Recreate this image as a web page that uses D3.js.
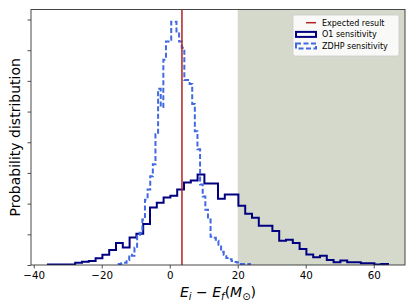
<!DOCTYPE html>
<html>
<head>
<meta charset="utf-8">
<script src="https://cdn.jsdelivr.net/npm/d3@7"></script>
<style>
body { margin: 0; background: #fff; }
svg { display: block; font-family: "DejaVu Sans", sans-serif; }
</style>
</head>
<body>
<div class="container"></div>
<script>
const WIDTH = 415;
const HEIGHT = 307;
const LEFT = 31;
const TOP = 9.5;
const RIGHT = 405;
const BOTTOM = 265;

// histogram outlines (density per bin), bins spread evenly over each range
var o1Range = [-35.8, 64.2];
var o1Density = [
    0.0002, 0.0002, 0.0002, 0.0002, 0.0007, 0.0011, 0.0013, 0.0022, 0.0033, 0.0049,
    0.0072, 0.0057, 0.0090, 0.0102, 0.0134, 0.0187, 0.0203, 0.0220, 0.0226, 0.0246,
    0.0269, 0.0275, 0.0295, 0.0266, 0.0266, 0.0216, 0.0230, 0.0230, 0.0193, 0.0167,
    0.0154, 0.0128, 0.0128, 0.0111, 0.0079, 0.0082, 0.0072, 0.0052, 0.0034, 0.0025,
    0.0030, 0.0016, 0.0009, 0.0015, 0.0009, 0.0009, 0.0006, 0.0006, 0.0002, 0.0003
];
var zdhpRange = [-15.0, 23.6];
var zdhpDensity = [
    0.0003, 0.0006, 0.0007, 0.0016, 0.0033, 0.0030, 0.0056, 0.0098, 0.0105, 0.0148,
    0.0213, 0.0246, 0.0289, 0.0328, 0.0426, 0.0574, 0.0515, 0.0669, 0.0728, 0.0734,
    0.0793, 0.0793, 0.0761, 0.0728, 0.0708, 0.0603, 0.0603, 0.0590, 0.0525, 0.0436,
    0.0377, 0.0262, 0.0223, 0.0180, 0.0148, 0.0092, 0.0089, 0.0079, 0.0066, 0.0043,
    0.0033, 0.0023, 0.0019, 0.0013, 0.0010, 0.0008, 0.0003, 0.0003, 0.0003, 0.0003
];
var expectedResult = 3.6;
var excludedFrom = 20;
var xLimits = [-40.8, 69.2];
var xTicks = [-40, -20, 0, 20, 40, 60];
var yTicks = [0, 0.01, 0.02, 0.03, 0.04, 0.05, 0.06, 0.07, 0.08];
var legendLabels = ["Expected result", "O1 sensitivity", "ZDHP sensitivity"];

var xScale = d3.scaleLinear()
    .domain(xLimits)
    .range([LEFT, RIGHT]);

var yScale = d3.scaleLinear()
    .domain([0, d3.max(zdhpDensity) * 1.05])
    .range([BOTTOM, TOP]);

var stepPoints = function (range, values) {
    var w = (range[1] - range[0]) / values.length;
    var pts = [[range[0], 0]];
    values.forEach(function (v, i) {
        pts.push([range[0] + i * w, v]);
        pts.push([range[0] + (i + 1) * w, v]);
    });
    pts.push([range[1], 0]);
    return pts;
};

var line = d3.line()
    .x(function (d) { return xScale(d[0]); })
    .y(function (d) { return yScale(d[1]); });

var svg = d3.select('.container').append('svg')
    .attr('width', WIDTH)
    .attr('height', HEIGHT);

svg.append('defs').append('clipPath').attr('id', 'plot')
    .append('rect')
    .attr('x', LEFT).attr('y', TOP)
    .attr('width', RIGHT - LEFT).attr('height', BOTTOM - TOP);

var g = svg.append('g').attr('clip-path', 'url(#plot)');

// excluded region
g.append('rect')
    .attr('x', xScale(excludedFrom))
    .attr('y', TOP)
    .attr('width', xScale(xLimits[1]) - xScale(excludedFrom))
    .attr('height', BOTTOM - TOP)
    .attr('fill', '#d4d9cb');

g.append('path')
    .attr('d', line(stepPoints(o1Range, o1Density)))
    .attr('fill', 'none')
    .attr('stroke', '#000080')
    .attr('stroke-width', 2)
    .attr('stroke-linejoin', 'miter');

g.append('path')
    .attr('d', line(stepPoints(zdhpRange, zdhpDensity)))
    .attr('fill', 'none')
    .attr('stroke', '#4169e1')
    .attr('stroke-width', 2)
    .attr('stroke-dasharray', '5,2.5');

g.append('line')
    .attr('x1', xScale(expectedResult)).attr('x2', xScale(expectedResult))
    .attr('y1', TOP).attr('y2', BOTTOM)
    .attr('stroke', '#b22222')
    .attr('stroke-width', 1.5);

// axes
var xAxis = d3.axisBottom(xScale)
    .tickValues(xTicks)
    .tickSize(3.5)
    .tickPadding(3.5)
    .tickSizeOuter(0);
var yAxis = d3.axisLeft(yScale)
    .tickValues(yTicks)
    .tickSize(3.5)
    .tickFormat('')
    .tickSizeOuter(0);

var xg = svg.append('g')
    .attr('transform', 'translate(0,' + BOTTOM + ')')
    .call(xAxis);
var yg = svg.append('g')
    .attr('transform', 'translate(' + LEFT + ',0)')
    .call(yAxis);

[xg, yg].forEach(function (a) {
    a.select('.domain').remove();
    a.selectAll('line').attr('stroke', '#222').attr('stroke-width', 0.8);
});
xg.selectAll('text')
    .attr('fill', '#000')
    .style('font-size', '10.3px')
    .style('font-family', '"DejaVu Sans", sans-serif');

svg.append('rect')
    .attr('x', LEFT).attr('y', TOP)
    .attr('width', RIGHT - LEFT).attr('height', BOTTOM - TOP)
    .attr('fill', 'none')
    .attr('stroke', '#333')
    .attr('stroke-width', 0.9);

// axis labels
var xl = svg.append('text')
    .attr('x', (LEFT + RIGHT) / 2)
    .attr('y', 297)
    .attr('text-anchor', 'middle')
    .style('font-size', '14px');
xl.append('tspan').attr('font-style', 'italic').text('E');
xl.append('tspan').attr('font-style', 'italic').attr('dy', 3).style('font-size', '10px').text('i');
xl.append('tspan').attr('dy', -3).text(' \u2212 ');
xl.append('tspan').attr('font-style', 'italic').text('E');
xl.append('tspan').attr('font-style', 'italic').attr('dy', 3).style('font-size', '10px').text('f');
xl.append('tspan').attr('dy', -3).text('(');
xl.append('tspan').attr('font-style', 'italic').text('M');
xl.append('tspan').attr('dy', 3).style('font-size', '10px').text('\u2299');
xl.append('tspan').attr('dy', -3).text(')');

svg.append('text')
    .attr('transform', 'translate(20,' + ((TOP + BOTTOM) / 2) + ') rotate(-90)')
    .attr('text-anchor', 'middle')
    .style('font-size', '14px')
    .text('Probability distribution');

// legend
var lg = svg.append('g').attr('transform', 'translate(293,15)');
lg.append('rect')
    .attr('width', 106).attr('height', 41)
    .attr('rx', 2)
    .attr('fill', '#fff').attr('fill-opacity', 0.85)
    .attr('stroke', '#ccc').attr('stroke-width', 0.8);

var rowY = function (i) { return 7.7 + i * 11.7; };
lg.append('line')
    .attr('x1', 13).attr('x2', 23)
    .attr('y1', rowY(0)).attr('y2', rowY(0))
    .attr('stroke', '#b22222').attr('stroke-width', 1.5);
lg.append('rect')
    .attr('x', 3).attr('y', rowY(1) - 2.5)
    .attr('width', 20).attr('height', 5)
    .attr('fill', 'none').attr('stroke', '#000080').attr('stroke-width', 2);
lg.append('rect')
    .attr('x', 3).attr('y', rowY(2) - 2.5)
    .attr('width', 20).attr('height', 5)
    .attr('fill', 'none').attr('stroke', '#4169e1').attr('stroke-width', 2)
    .attr('stroke-dasharray', '5,2.5');

lg.selectAll('text.lab').data(legendLabels).enter().append('text')
    .attr('class', 'lab')
    .attr('x', 29)
    .attr('y', function (d, i) { return rowY(i); })
    .attr('dy', '0.35em')
    .style('font-size', '8px')
    .text(function (d) { return d; });
</script>
</body>
</html>
